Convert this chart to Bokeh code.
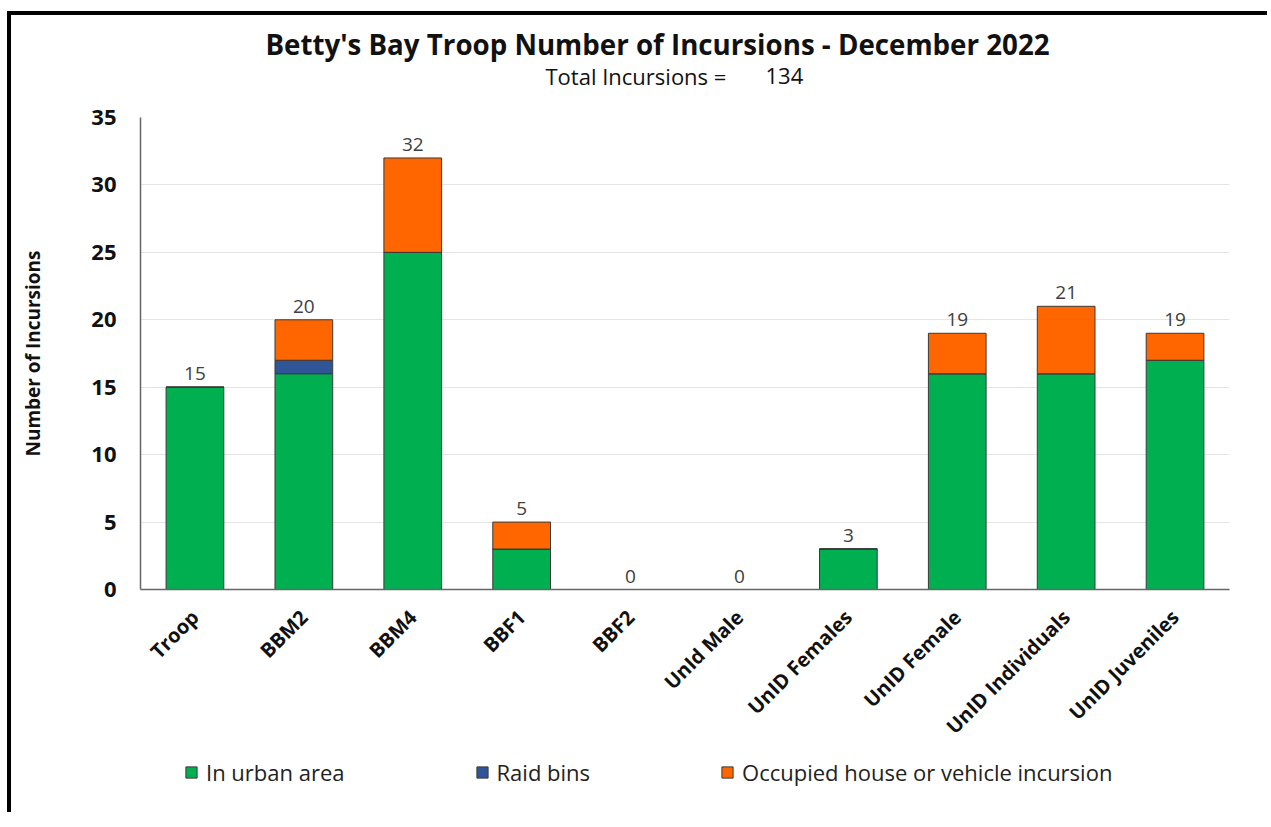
import math
from bokeh.plotting import figure
from bokeh.layouts import column
from bokeh.models import FactorRange, Range1d, Legend, LegendItem, FixedTicker, Label
from bokeh.core.properties import value
from bokeh.embed import file_html
from bokeh.resources import INLINE

# ---- data ----
categories = ["Troop", "BBM2", "BBM4", "BBF1", "BBF2", "UnId Male",
              "UnID Females", "UnID Female", "UnID Individuals", "UnID Juveniles"]
urban = [15, 16, 25, 3, 0, 0, 3, 16, 16, 17]
raid_bins = [0, 1, 0, 0, 0, 0, 0, 0, 0, 0]
occupied = [0, 3, 7, 2, 0, 0, 0, 3, 5, 2]
series_names = ["In urban area", "Raid bins", "Occupied house or vehicle incursion"]
series_colors = ["#00B050", "#2F5597", "#FF6600"]
y_ticks = [0, 5, 10, 15, 20, 25, 30, 35]
title_text = "Betty's Bay Troop Number of Incursions - December 2022"
subtitle_text = "Total Incursions ="
y_label = "Number of Incursions"

totals = [a + b + c for a, b, c in zip(urban, raid_bins, occupied)]
total_all = sum(totals)

FONT = "Open Sans"
W = 1256


def bare(h):
    f = figure(width=W, height=h, x_range=Range1d(0, 1), y_range=Range1d(0, 1),
               x_axis_location=None, y_axis_location=None,
               output_backend="svg", toolbar_location=None, min_border=0)
    f.grid.visible = False
    f.outline_line_color = None
    f.background_fill_color = "white"
    f.border_fill_color = "white"
    return f


# ---- title strip (its frame is aligned with the main chart's frame) ----
pt = bare(77)
pt.add_layout(Label(x=517, y=49, x_units="screen", y_units="screen", text=title_text,
                    text_align="center", text_baseline="middle", text_font=FONT,
                    text_font_size="27.7px", text_font_style="bold", text_color="#111111"))
pt.add_layout(Label(x=405, y=17, x_units="screen", y_units="screen", text=subtitle_text,
                    text_align="left", text_baseline="middle", text_font=FONT,
                    text_font_size="22px", text_color="#111111"))
pt.add_layout(Label(x=625, y=17, x_units="screen", y_units="screen", text=str(total_all),
                    text_align="left", text_baseline="middle", text_font=FONT,
                    text_font_size="22px", text_color="#111111"))

# ---- main chart ----
p = figure(x_range=FactorRange(*categories, range_padding=0),
           y_range=Range1d(0, 35),
           width=W, height=660,
           output_backend="svg", toolbar_location=None,
           min_border_left=129, min_border_right=38,
           min_border_top=25, min_border_bottom=158)
p.outline_line_color = None
p.background_fill_color = "white"
p.border_fill_color = "white"

data = dict(cat=categories, urban=urban, bins=raid_bins, occ=occupied)
rs = p.vbar_stack(["urban", "bins", "occ"], x="cat", width=0.53, source=data,
                  color=series_colors, line_color="#3a3a3a", line_width=1)

p.text(x=categories, y=totals, text=[str(t) for t in totals],
       text_align="center", text_baseline="bottom", y_offset=-7,
       text_font=value(FONT), text_font_size="19px", text_color="#404040")

p.xgrid.grid_line_color = None
p.ygrid.grid_line_color = "#e4e4e4"
p.ygrid.grid_line_width = 1
p.yaxis.ticker = FixedTicker(ticks=y_ticks)
for ax in (p.xaxis[0], p.yaxis[0]):
    ax.axis_line_color = "#666666"
    ax.axis_line_width = 1.5
    ax.major_tick_line_color = None
    ax.minor_tick_line_color = None
    ax.major_tick_out = 0
    ax.major_tick_in = 0
    ax.major_label_text_font = FONT
    ax.major_label_text_font_style = "bold"
    ax.major_label_text_color = "#111111"
p.yaxis.major_label_text_font_size = "22px"
p.yaxis.major_label_standoff = 24
p.yaxis.axis_label = y_label
p.yaxis.axis_label_text_font = FONT
p.yaxis.axis_label_text_font_size = "19px"
p.yaxis.axis_label_text_font_style = "bold"
p.yaxis.axis_label_text_color = "#111111"
p.yaxis.axis_label_standoff = 42

p.xaxis.major_label_orientation = math.pi / 4
p.xaxis.major_label_text_font_size = "20px"
p.xaxis.major_label_standoff = 24

# ---- legend strip (hidden copies of the series supply the legend swatches) ----
pl = bare(60)
idx = list(range(len(categories)))
lr = [pl.vbar(x=idx, top=vals, width=0.5, fill_color=c, line_color="#3a3a3a", visible=False)
      for vals, c in zip([urban, raid_bins, occupied], series_colors)]
legend = Legend(items=[LegendItem(label=n, renderers=[r]) for n, r in zip(series_names, lr)],
                orientation="horizontal", location=(44, 25),
                spacing=130, padding=0, margin=0, label_standoff=8,
                glyph_width=14, glyph_height=14, label_height=22,
                label_text_font=FONT, label_text_font_size="22px",
                label_text_color="#222222", inactive_fill_alpha=0,
                border_line_color=None, background_fill_alpha=0)
pl.add_layout(legend, "center")

layout = column(pt, p, pl, spacing=0,
                styles={"border-left": "4px solid black", "border-top": "4px solid black",
                        "margin-top": "11px", "margin-left": "7px"})

open("out.html", "w").write(file_html(layout, INLINE))
